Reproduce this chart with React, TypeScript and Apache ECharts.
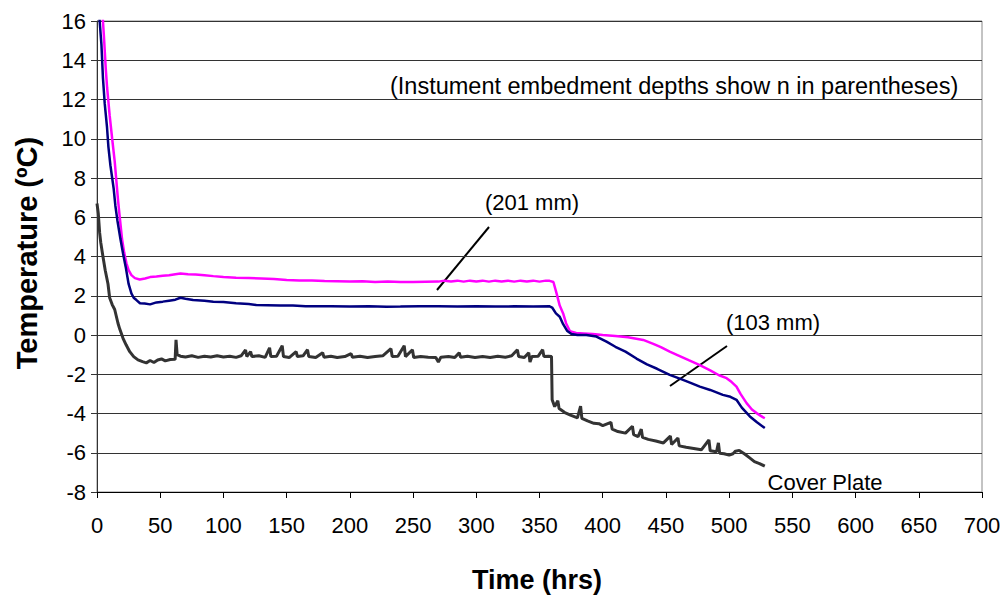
import React, { useEffect, useRef } from "react";
import * as echarts from "echarts";

// Time (hrs), Temperature (°C)
const depth201: [number, number][] = [
  [0, 19], [3.5, 17], [4.7, 16], [5.5, 15.2], [6.9, 13.6], [8, 12.6], [10, 11.2], [12, 10], [14, 8.85],
  [16.6, 6.9], [18, 6], [19.8, 4.9], [21.5, 4.2], [23.3, 3.65], [25, 3.3], [27.2, 3.05], [30, 2.9],
  [33.8, 2.83], [38, 2.88], [42, 2.95], [47, 2.98], [52, 3.02], [57, 3.05], [62, 3.1], [66, 3.13],
  [72, 3.1], [78, 3.08], [85, 3.05], [92, 3.0], [100, 2.96], [110, 2.92], [120, 2.9], [130, 2.88],
  [140, 2.85], [150, 2.8], [160, 2.78], [170, 2.78], [180, 2.75], [190, 2.74], [200, 2.72], [210, 2.74],
  [220, 2.7], [230, 2.72], [240, 2.7], [250, 2.7], [260, 2.71], [270, 2.72], [275, 2.77], [280, 2.73],
  [285, 2.77], [290, 2.72], [295, 2.77], [300, 2.73], [305, 2.77], [310, 2.72], [315, 2.77], [320, 2.73],
  [325, 2.77], [330, 2.72], [335, 2.77], [340, 2.73], [345, 2.77], [350, 2.72], [355, 2.77], [358, 2.76],
  [361, 2.7], [363.5, 2.12], [366, 1.5], [368.7, 1.1], [371, 0.6], [374, 0.2], [379, 0.1], [385, 0.08],
  [392, 0.05], [400, 0], [410, -0.05], [420, -0.12], [432, -0.25], [440, -0.45], [446, -0.62],
  [453, -0.85], [460, -1.05], [468, -1.28], [476.8, -1.53], [485, -1.8], [492, -2.05], [498, -2.2],
  [502, -2.4], [505.8, -2.63], [509, -3.0], [513.8, -3.47], [518, -3.8], [521.7, -3.98], [525, -4.12],
  [528.2, -4.24],
];

const depth103: [number, number][] = [
  [0, 19], [1.5, 16.5], [2.1, 16], [3.5, 14.8], [4.7, 13.1], [6.1, 11.8], [7.9, 10.6], [9, 9.6],
  [10.6, 8.65], [13.2, 7.45], [14.5, 6.6], [16.1, 5.85], [18.5, 4.9], [20.6, 4.15], [22.7, 3.47],
  [25, 2.6], [27.2, 2.12], [29, 1.9], [31.2, 1.78], [34, 1.62], [37.7, 1.6], [42, 1.56], [47, 1.66],
  [52, 1.7], [57, 1.75], [62, 1.8], [66, 1.9], [70, 1.85], [76, 1.78], [85, 1.75], [92, 1.7],
  [100, 1.68], [110, 1.62], [120, 1.58], [126, 1.53], [135, 1.52], [145, 1.5], [155, 1.5], [165, 1.47],
  [175, 1.46], [185, 1.47], [200, 1.45], [215, 1.46], [229, 1.44], [240, 1.45], [255, 1.47], [270, 1.46],
  [285, 1.45], [300, 1.46], [315, 1.45], [330, 1.46], [345, 1.45], [358, 1.46], [360, 1.4], [363, 1.1],
  [366, 0.93], [368.7, 0.55], [372, 0.2], [375.3, 0.05], [380, 0.0], [387, 0.0], [395, -0.08],
  [403, -0.34], [410, -0.6], [418, -0.85], [426.7, -1.2], [435, -1.5], [443, -1.72], [453, -2.03],
  [462, -2.25], [470, -2.45], [476.8, -2.63], [485, -2.8], [495, -3.05], [501, -3.15], [505.8, -3.3],
  [510, -3.7], [516.4, -4.15], [522, -4.45], [528.2, -4.74],
];

const coverPlate: [number, number][] = [
  [0, 6.7], [1, 6.2], [2.1, 5.2], [3, 4.7], [4.7, 4.0], [6.5, 3.3], [8.7, 2.6], [10, 1.9], [12, 1.55],
  [14, 1.3], [16.6, 0.6], [18, 0.3], [20.6, -0.17], [23, -0.5], [25.9, -0.85], [29, -1.1], [32.4, -1.27],
  [36, -1.36], [39, -1.42], [42, -1.3], [45, -1.4], [48, -1.27], [51, -1.22], [54, -1.32], [58, -1.25],
  [61.8, -1.24], [62.5, -0.25], [63.4, -1.0], [66, -1.08], [70, -1.12], [75, -1.06], [80, -1.14],
  [85, -1.08], [90, -1.12], [95, -1.06], [100, -1.12], [105, -1.08], [110, -1.14], [114, -1.06],
  [117.5, -0.76], [118.5, -1.1], [121.5, -0.85], [122.5, -1.1], [128, -1.06], [133, -1.14],
  [136.5, -0.65], [137.5, -1.1], [142, -1.08], [146.5, -0.55], [147.5, -1.1], [152, -1.15],
  [157.5, -0.85], [158.5, -1.1], [163, -1.06], [166.5, -0.75], [167.5, -1.1], [173, -1.15],
  [178.5, -0.9], [179.5, -1.13], [185, -1.08], [190, -1.15], [196, -1.1], [201, -0.95], [202, -1.13],
  [208, -1.08], [214, -1.15], [220, -1.1], [226, -1.06], [232.5, -0.7], [233.5, -1.1], [238, -1.08],
  [243, -0.55], [244, -1.1], [249.5, -0.75], [250.5, -1.15], [256, -1.1], [262, -1.13], [268, -1.15],
  [270, -1.38], [272, -1.13], [278, -1.1], [283, -1.15], [286.5, -0.9], [287.5, -1.13], [293, -1.08],
  [299, -1.15], [305, -1.1], [311, -1.15], [317, -1.08], [323, -1.13], [328, -1.06], [332.5, -0.75],
  [333.5, -1.1], [338, -1.15], [341.5, -0.9], [342.5, -1.38], [344, -1.1], [349, -1.08],
  [352.5, -0.75], [353.5, -1.1], [357, -1.08], [359.5, -1.1], [360, -3.3], [362, -3.65],
  [364.5, -3.35], [365.5, -3.75], [370, -3.95], [375, -4.1], [380, -4.22], [382.5, -3.62],
  [383.5, -4.25], [388, -4.38], [393, -4.5], [397, -4.52], [400, -4.62], [406.5, -4.45], [407.5, -4.8],
  [412, -4.92], [418, -5.0], [423.5, -4.65], [424.5, -5.08], [428, -5.18], [430.5, -4.8],
  [431.5, -5.22], [436, -5.32], [442, -5.4], [448, -5.5], [453.5, -5.15], [454.5, -5.58],
  [459.5, -5.25], [460.5, -5.65], [466, -5.72], [472, -5.78], [478, -5.85], [484, -5.35], [485, -5.9],
  [490, -5.95], [491.5, -5.5], [492.5, -6.02], [496, -6.05], [500, -6.12], [503, -6.05], [505, -5.92],
  [508, -5.88], [512, -6.05], [516, -6.25], [520, -6.45], [524, -6.55], [528.2, -6.68],
];

const xMin = 0;
const xMax = 700;
const xStep = 50;
const yMin = -8;
const yMax = 16;
const yStep = 2;

const FONT = "'Liberation Sans', Arial, sans-serif";

export default function App() {
  const ref = useRef<HTMLDivElement>(null);
  useEffect(() => {
    document.body.style.margin = "0";
    const chart = echarts.init(ref.current!, null, { renderer: "svg" });
    chart.setOption({
      animation: false,
      backgroundColor: "#fff",
      grid: {
        left: 97,
        right: 26,
        top: 21,
        bottom: 108,
        show: true,
        borderColor: "#888",
        borderWidth: 1,
        backgroundColor: "transparent",
      },
      xAxis: {
        type: "value",
        min: xMin,
        max: xMax,
        interval: xStep,
        axisLine: { show: true, onZero: false, lineStyle: { color: "#000", width: 1 } },
        axisTick: { show: true, inside: false, length: 6, lineStyle: { color: "#000" } },
        axisLabel: { fontSize: 22, color: "#000", margin: 22, fontFamily: FONT },
        splitLine: { show: false },
      },
      yAxis: {
        type: "value",
        min: yMin,
        max: yMax,
        interval: yStep,
        axisLine: { show: true, onZero: false, lineStyle: { color: "#333", width: 1 } },
        axisTick: { show: true, inside: false, length: 6, lineStyle: { color: "#333" } },
        axisLabel: { fontSize: 22, color: "#000", margin: 11, fontFamily: FONT },
        splitLine: { show: true, lineStyle: { color: "#333", width: 1 } },
      },
      series: [
        {
          name: "(201 mm)",
          type: "line",
          data: depth201,
          showSymbol: false,
          symbol: "none",
          clip: true,
          lineStyle: { color: "#ff00ff", width: 2.5 },
          z: 3,
        },
        {
          name: "(103 mm)",
          type: "line",
          data: depth103,
          showSymbol: false,
          symbol: "none",
          clip: true,
          lineStyle: { color: "#000080", width: 2.5 },
          z: 4,
        },
        {
          name: "Cover Plate",
          type: "line",
          data: coverPlate,
          showSymbol: false,
          symbol: "none",
          clip: true,
          lineStyle: { color: "#333333", width: 3 },
          z: 5,
        },
      ],
      graphic: [
        {
          type: "text",
          x: 390,
          y: 86,
          style: {
            text: "(Instument embedment depths show n in parentheses)",
            fontSize: 23.5,
            fontFamily: FONT,
            fill: "#000",
            align: "left",
            verticalAlign: "middle",
          },
        },
        {
          type: "text",
          x: 532,
          y: 202,
          style: { text: "(201 mm)", fontSize: 22, fontFamily: FONT, fill: "#000", align: "center", verticalAlign: "middle" },
        },
        {
          type: "line",
          shape: { x1: 489, y1: 227, x2: 437, y2: 290 },
          style: { stroke: "#000", lineWidth: 2 },
        },
        {
          type: "text",
          x: 773,
          y: 322,
          style: { text: "(103 mm)", fontSize: 22, fontFamily: FONT, fill: "#000", align: "center", verticalAlign: "middle" },
        },
        {
          type: "line",
          shape: { x1: 727, y1: 346, x2: 670, y2: 386 },
          style: { stroke: "#000", lineWidth: 2 },
        },
        {
          type: "text",
          x: 825,
          y: 482,
          style: { text: "Cover Plate", fontSize: 22, fontFamily: FONT, fill: "#000", align: "center", verticalAlign: "middle" },
        },
        {
          type: "text",
          x: 27,
          y: 253,
          rotation: Math.PI / 2,
          style: {
            text: "Temperature (ºC)",
            fontSize: 29,
            fontWeight: "bold",
            fontFamily: FONT,
            fill: "#000",
            align: "center",
            verticalAlign: "middle",
          },
        },
        {
          type: "text",
          x: 537,
          y: 580,
          style: {
            text: "Time (hrs)",
            fontSize: 27,
            fontWeight: "bold",
            fontFamily: FONT,
            fill: "#000",
            align: "center",
            verticalAlign: "middle",
          },
        },
      ],
    });
    return () => chart.dispose();
  }, []);
  return <div ref={ref} style={{ width: 1008, height: 600 }} />;
}
